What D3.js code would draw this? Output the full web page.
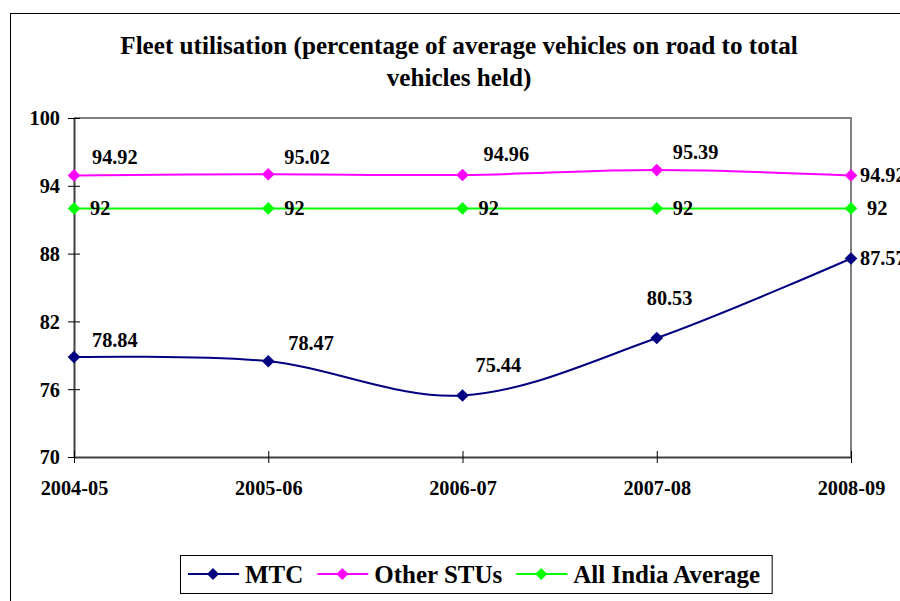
<!DOCTYPE html>
<html><head><meta charset="utf-8">
<script src="https://cdn.jsdelivr.net/npm/d3@7"></script>
<style>
html,body{margin:0;padding:0;background:#fff;overflow:hidden;}
</style></head>
<body><svg id="chart" width="900" height="601"></svg>
<script>
// ---- data ----
const categories = ["2004-05","2005-06","2006-07","2007-08","2008-09"];
const mtc = [78.84, 78.47, 75.44, 80.53, 87.57];
const otherSTUs = [94.92, 95.02, 94.96, 95.39, 94.92];
const allIndia = [92, 92, 92, 92, 92];
const seriesNames = ["MTC","Other STUs","All India Average"];
const yTicks = [70, 76, 82, 88, 94, 100];
const titleLines = ["Fleet utilisation (percentage of average vehicles on road to total","vehicles held)"];

// ---- layout ----
const FONT = "'Liberation Serif'";
const svg = d3.select("#chart");
const plot = {left:74, top:118, right:851, bottom:457};
const colors = ["#000080","#FF00FF","#00FF00"];
const series = [mtc, otherSTUs, allIndia];
const labelOffsets = [
  [[18,-10],[20,-11],[13,-24],[-10,-33],[9,7]],
  [[18,-11],[16,-10],[21,-14],[16,-11],[9,7]],
  [[16,7],[16,7],[16,7],[16,7],[16,7]]
];
function styleText(sel){ return sel.style("font-family",FONT).style("font-weight","bold").attr("fill","#000"); }
function fitSize(str, target){
  const t = styleText(svg.append("text").attr("font-size",100).text(str));
  const w = t.node().getComputedTextLength(); t.remove();
  return 100 * target / w;
}
const smallSize = fitSize("2004-05", 67.7);
const titleSize = fitSize(titleLines[0], 678);
const legendSize = fitSize("All India Average", 187);

// outer chart border
svg.append("rect").attr("x",10.5).attr("y",13.5).attr("width",900).attr("height",600)
  .attr("fill","#fff").attr("stroke","#000").attr("stroke-width",1);

const x = d3.scalePoint().domain(categories).range([plot.left, plot.right]);
const y = d3.scaleLinear().domain([70,100]).range([plot.bottom, plot.top]);

svg.append("path").attr("d",`M${plot.left},${plot.top}H${plot.right}V${plot.bottom}`)
  .attr("fill","none").attr("stroke","#808080").attr("stroke-width",2);

// y axis
const yAxis = d3.axisLeft(y).tickValues(yTicks).tickSizeInner(6).tickSizeOuter(0).tickPadding(8);
const gy = svg.append("g").attr("transform",`translate(${plot.left},0)`).call(yAxis);
gy.attr("font-family",null);
gy.select(".domain").attr("stroke","#404040").attr("stroke-width",2);
gy.selectAll(".tick line").attr("x1",-6).attr("x2",6).attr("stroke","#000");
styleText(gy.selectAll(".tick text").attr("font-size",smallSize).attr("x",-14).attr("dy","0.34em"));

// x axis
const xAxis = d3.axisBottom(x).tickSizeInner(6).tickSizeOuter(0).tickPadding(0);
const gx = svg.append("g").attr("transform",`translate(0,${plot.bottom})`).call(xAxis);
gx.attr("font-family",null);
gx.select(".domain").attr("stroke","#404040").attr("stroke-width",2);
gx.selectAll(".tick line").attr("y1",-6).attr("y2",6).attr("stroke","#000");
styleText(gx.selectAll(".tick text").attr("font-size",smallSize).attr("y",38).attr("dy",0));

// title
styleText(svg.append("text").attr("text-anchor","middle").attr("font-size",titleSize))
  .selectAll("tspan").data(titleLines).join("tspan")
  .attr("x",459).attr("y",(d,i)=>54+i*32).text(d=>d);

// lines
const line = d3.line().x((d,i)=>x(categories[i])).y(d=>y(d)).curve(d3.curveCatmullRom.alpha(0));
const marker = d3.symbol().type(d3.symbolSquare).size(80);

series.forEach((vals, si) => {
  const g = svg.append("g");
  g.append("path").attr("d", line(vals)).attr("fill","none")
    .attr("stroke", colors[si]).attr("stroke-width",2);
  g.selectAll("path.m").data(vals).join("path").attr("class","m")
    .attr("d", marker)
    .attr("transform",(d,i)=>`translate(${x(categories[i])},${y(d)}) rotate(45)`)
    .attr("fill", colors[si]);
});
series.forEach((vals, si) => {
  styleText(svg.append("g").selectAll("text").data(vals).join("text")
    .attr("font-size",smallSize)
    .attr("x",(d,i)=>x(categories[i]) + labelOffsets[si][i][0])
    .attr("y",(d,i)=>y(d) + labelOffsets[si][i][1])
    .text(d=>String(d)));
});

// legend
const leg = svg.append("g");
const legBox = leg.append("rect").attr("x",180.5).attr("y",555.5).attr("height",38)
  .attr("fill","#fff").attr("stroke","#000").attr("stroke-width",1);
let cx = 188;
const ly = 574;
let lastEnd = cx;
seriesNames.forEach((name, si) => {
  leg.append("line").attr("x1",cx).attr("x2",cx+51).attr("y1",ly).attr("y2",ly)
    .attr("stroke",colors[si]).attr("stroke-width",2);
  leg.append("path").attr("d", d3.symbol().type(d3.symbolSquare).size(72))
    .attr("transform",`translate(${cx+25},${ly}) rotate(45)`).attr("fill",colors[si]);
  const t = styleText(leg.append("text").attr("x",cx+57).attr("y",583).attr("font-size",legendSize)).text(name);
  lastEnd = cx + 57 + t.node().getComputedTextLength();
  cx = lastEnd + 14;
});
legBox.attr("width", lastEnd + 12 - 180.5);
</script></body></html>
